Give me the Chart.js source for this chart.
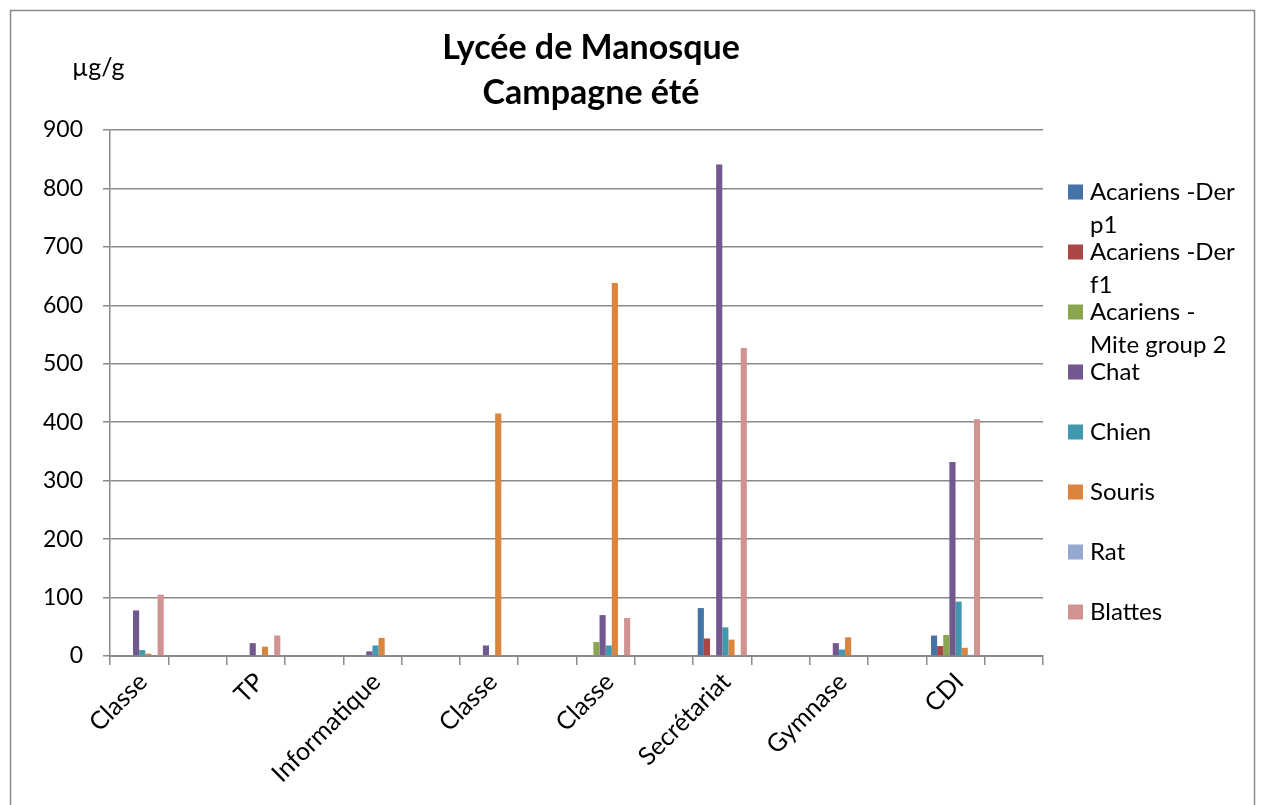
<!DOCTYPE html>
<html lang="fr">
<head>
<meta charset="UTF-8">
<title>Lycée de Manosque - Campagne été</title>
<script src="https://cdn.jsdelivr.net/npm/chart.js"></script>
<style>
    body { margin: 0; background: #fff; }
    .janela { position: relative; width: 1261px; height: 805px; }
</style>
</head>
<body>
<div class="janela">
    <canvas id="graficoLycee" width="1261" height="805"></canvas>
</div>

<script>
    // salles (une sur deux est vide dans l'original)
    const salles = ['Classe', 'TP', 'Informatique', 'Classe', 'Classe', 'Secrétariat', 'Gymnase', 'CDI'];

    const serieNoms = ['Acariens -Der p1', 'Acariens -Der f1', 'Acariens -Mite group 2', 'Chat', 'Chien', 'Souris', 'Rat', 'Blattes'];
    const legendeLignes = [['Acariens -Der', 'p1'], ['Acariens -Der', 'f1'], ['Acariens -', 'Mite group 2'], ['Chat'], ['Chien'], ['Souris'], ['Rat'], ['Blattes']];

    const derP1   = [0, 0, 0, 0, 0, 82, 0, 35];
    const derF1   = [0, 0, 0, 0, 0, 30, 0, 17];
    const mite2   = [0, 0, 0, 0, 24, 0, 0, 36];
    const chat    = [78, 22, 8, 18, 70, 841, 22, 332];
    const chien   = [10, 0, 18, 0, 18, 49, 11, 93];
    const souris  = [4, 16, 31, 415, 638, 28, 32, 14];
    const rat     = [0, 0, 0, 0, 0, 2, 0, 2];
    const blattes = [105, 35, 0, 0, 65, 527, 0, 405];

    const yTicks = [0, 100, 200, 300, 400, 500, 600, 700, 800, 900];

    const couleurs = ['#4572A7', '#AA4643', '#89A54E', '#71588F', '#4198AF', '#DB843D', '#93A9CF', '#D19392'];
    const series = [derP1, derF1, mite2, chat, chien, souris, rat, blattes];

    // chaque salle suivie d'une case vide
    const legendas = [];
    salles.forEach(s => { legendas.push(s); legendas.push(''); });
    const etaler = vals => {
        const out = [];
        vals.forEach(v => { out.push(v); out.push(null); });
        return out;
    };

    const FONTE = 'Lato, "Open Sans", sans-serif';
    const GRIS = '#8a8a8a';

    const decor = {
        id: 'decor',
        afterDraw(chart) {
            const ctx = chart.ctx;
            ctx.save();
            // cadre
            ctx.strokeStyle = GRIS;
            ctx.lineWidth = 1.5;
            ctx.strokeRect(10.5, 10.5, 1244, 820);
            // titre
            ctx.fillStyle = '#000';
            ctx.textAlign = 'center';
            ctx.textBaseline = 'middle';
            ctx.font = 'bold 34px ' + FONTE;
            ctx.fillText('Lycée de Manosque', 591, 48);
            ctx.fillText('Campagne été', 591, 93);
            // unité
            ctx.font = '25px ' + FONTE;
            ctx.textAlign = 'left';
            ctx.fillText('µg/g', 72, 68);
            // légende
            ctx.font = '24px ' + FONTE;
            chart.data.datasets.forEach((ds, i) => {
                const y = 192 + 60 * i;
                ctx.fillStyle = ds.backgroundColor;
                ctx.fillRect(1068, y - 7.5, 15, 15);
                ctx.fillStyle = '#000';
                legendeLignes[i].forEach((t, j) => {
                    ctx.fillText(t, 1090, y + 33 * j);
                });
            });
            ctx.restore();
        }
    };

    new Chart(document.getElementById('graficoLycee'), {
        type: 'bar',
        data: {
            labels: legendas,
            datasets: series.map((vals, i) => ({
                label: serieNoms[i],
                data: etaler(vals),
                backgroundColor: couleurs[i],
                borderWidth: 0,
                categoryPercentage: 8 / 9.5,
                barPercentage: 1
            }))
        },
        options: {
            responsive: false,
            animation: false,
            layout: { padding: { left: 0, top: 130, right: 218, bottom: 0 } },
            plugins: {
                legend: { display: false },
                title: { display: false },
                tooltip: { enabled: false }
            },
            scales: {
                x: {
                    afterFit: s => { s.height = 149; },
                    grid: { drawOnChartArea: false, offset: true, tickLength: 9, color: GRIS, lineWidth: 1.5 },
                    border: { color: GRIS, width: 2 },
                    ticks: {
                        autoSkip: false, maxRotation: 45, minRotation: 45, padding: 2, labelOffset: 4,
                        color: '#000', font: { family: FONTE, size: 25 }
                    }
                },
                y: {
                    min: 0, max: 900,
                    afterFit: s => { s.width = 110; },
                    afterBuildTicks: s => { s.ticks = yTicks.map(v => ({ value: v })); },
                    grid: { color: GRIS, lineWidth: 1.5, tickLength: 7 },
                    border: { color: GRIS, width: 1.5 },
                    ticks: { padding: 20, color: '#000', font: { family: FONTE, size: 23 } }
                }
            }
        },
        plugins: [decor]
    });
</script>
</body>
</html>
